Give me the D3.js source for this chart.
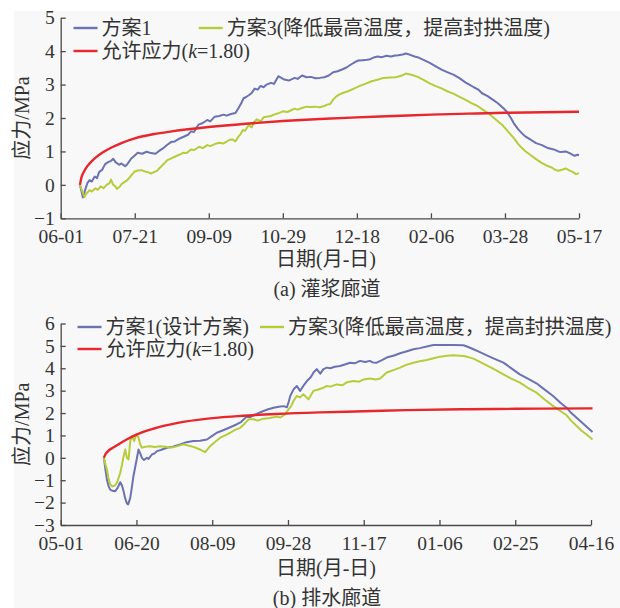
<!DOCTYPE html>
<html>
<head>
<meta charset="utf-8">
<script src="https://cdn.jsdelivr.net/npm/d3@7"></script>
<style>
  html, body { margin: 0; padding: 0; background: #ffffff; }
  svg { display: block; }
  text { font-family: "Liberation Serif", "Times New Roman", "Noto Sans CJK SC", serif; fill: #333; }
</style>
</head>
<body>
<svg id="fig" width="620" height="608"></svg>
<script>
// ---------- data: day offsets from the first axis date, stress in MPa ----------

// (a) grouting gallery, axis starts 06-01
const topTickLabels = ["06-01", "07-21", "09-09", "10-29", "12-18", "02-06", "03-28", "05-17"];
const topYTicks = [-1, 0, 1, 2, 3, 4, 5];

const topPlan1 = [
  [13, 0.0], [15, -0.38], [16.5, -0.15], [18, 0.05], [19.5, 0.14], [21, 0.1], [23, 0.25], [24.5, 0.2],
  [26, 0.39], [28, 0.45], [30, 0.62], [32, 0.68], [34, 0.72], [35.5, 0.78], [37, 0.68], [39.5, 0.6],
  [41, 0.64], [43.5, 0.56], [45, 0.62], [47.5, 0.78], [50, 0.88], [52, 0.96], [55, 0.93], [58, 0.99],
  [61, 0.95], [64, 0.93], [66, 1.0], [69, 1.09], [72, 1.2], [74.5, 1.28], [77, 1.3], [80, 1.38],
  [83, 1.44], [86, 1.5], [88, 1.6], [90, 1.58], [93, 1.8], [96, 1.85], [99, 1.94], [101, 1.9],
  [104, 2.04], [107, 2.06], [110, 2.1], [112, 2.07], [115, 2.12], [118, 2.15], [120, 2.29], [122, 2.45],
  [123.5, 2.59], [125, 2.62], [127, 2.68], [129, 2.75], [131, 2.88], [133, 2.85], [135, 2.96], [137, 2.92],
  [139, 3.0], [142, 3.05], [144, 3.02], [147, 3.25], [149, 3.2], [151, 3.15], [154, 3.12], [158, 3.2],
  [160, 3.17], [163, 3.27], [166, 3.22], [169, 3.23], [172, 3.19], [175, 3.2], [178, 3.22], [181, 3.27],
  [184, 3.37], [187, 3.4], [190, 3.45], [193, 3.51], [196, 3.6], [199, 3.68], [201, 3.72], [204, 3.73],
  [207, 3.74], [209, 3.76], [212, 3.82], [214, 3.84], [217, 3.82], [220, 3.86], [223, 3.84], [226, 3.87],
  [228, 3.88], [231, 3.9], [233, 3.93], [236, 3.89], [239, 3.84], [241, 3.82], [245, 3.74], [249.5, 3.64],
  [253, 3.55], [257.5, 3.44], [261, 3.37], [265.5, 3.29], [269, 3.2], [273.5, 3.06], [276, 3.0], [279, 2.92],
  [282, 2.85], [284.5, 2.74], [288, 2.66], [292, 2.54], [295, 2.45], [299, 2.29], [301, 2.2], [304, 2.0],
  [306, 1.84], [309, 1.66], [311.5, 1.54], [314, 1.44], [317, 1.36], [321, 1.25], [325, 1.19], [329, 1.1],
  [333, 1.06], [336, 1.0], [338, 0.98], [341, 1.0], [344, 0.94], [347, 0.87], [349, 0.9], [350, 0.88]
];

const topPlan3 = [
  [13, 0.0], [15, -0.25], [16, -0.36], [17.5, -0.25], [19.5, -0.16], [21, -0.2], [23.5, -0.1], [25, -0.15],
  [27, -0.05], [29, -0.1], [31, 0.0], [33, 0.05], [34, 0.16], [35.5, 0.0], [37, -0.05], [38, -0.12],
  [40, -0.05], [41, 0.02], [43, 0.08], [45, 0.14], [47, 0.25], [49, 0.35], [50, 0.4], [52, 0.43],
  [54.5, 0.44], [57, 0.4], [59, 0.38], [61, 0.34], [63, 0.38], [65, 0.42], [66.5, 0.49], [69, 0.6],
  [72, 0.74], [74, 0.78], [77, 0.84], [80, 0.9], [82.7, 0.96], [85, 0.95], [88, 1.06], [90, 1.04],
  [93.5, 1.14], [96, 1.1], [99, 1.19], [101, 1.16], [104, 1.22], [107, 1.26], [110, 1.24], [112, 1.29],
  [114, 1.35], [116, 1.36], [118, 1.3], [120, 1.44], [121.5, 1.52], [123, 1.64], [124.5, 1.62], [127, 1.79],
  [129, 1.72], [130.5, 1.88], [132.5, 1.96], [135, 1.9], [137, 2.02], [139, 2.04], [142, 2.06], [144, 2.1],
  [147, 2.14], [150, 2.2], [153, 2.18], [156, 2.24], [158, 2.28], [160, 2.25], [163, 2.3], [166, 2.34],
  [169, 2.33], [172, 2.34], [175, 2.32], [178, 2.36], [180, 2.4], [182, 2.42], [184, 2.55], [186, 2.64],
  [188, 2.7], [190, 2.74], [194, 2.8], [198, 2.88], [202, 2.96], [206, 3.03], [210, 3.1], [214.5, 3.15],
  [218, 3.2], [222.5, 3.21], [226, 3.22], [228, 3.24], [231, 3.28], [233, 3.33], [236, 3.3], [238, 3.28],
  [241, 3.23], [245, 3.14], [249.5, 3.03], [253, 2.96], [257.5, 2.88], [261, 2.8], [265.5, 2.72], [269, 2.64],
  [273.5, 2.54], [277, 2.45], [281.5, 2.36], [285, 2.25], [290, 2.1], [294, 1.95], [298, 1.8], [302, 1.6],
  [306, 1.4], [309, 1.22], [311.5, 1.1], [314, 1.0], [317, 0.9], [321, 0.77], [325, 0.65], [328, 0.58],
  [331.6, 0.52], [334, 0.45], [336, 0.42], [339, 0.46], [341, 0.49], [344, 0.42], [346, 0.38], [348, 0.32],
  [350, 0.35]
];

const topAllow = [
  [13, 0], [14, 0.22], [15.5, 0.38], [18, 0.56], [21, 0.71], [24, 0.83], [28, 0.96], [34, 1.11],
  [41, 1.25], [50, 1.39], [63, 1.52], [75, 1.6], [100, 1.73], [125, 1.83], [150, 1.91], [175, 1.97],
  [200, 2.02], [225, 2.06], [250, 2.1], [275, 2.13], [300, 2.155], [325, 2.17], [350, 2.185]
];

// (b) drainage gallery, axis starts 05-01
const botTickLabels = ["05-01", "06-20", "08-09", "09-28", "11-17", "01-06", "02-25", "04-16"];
const botYTicks = [-3, -2, -1, 0, 1, 2, 3, 4, 5, 6];

const botPlan1 = [
  [28.5, 0], [29.5, -0.5], [30.5, -0.97], [31.5, -1.25], [32.7, -1.42], [34, -1.47], [36, -1.49], [37.5, -1.35],
  [39.3, -1.09], [40.5, -1.25], [41.5, -1.49], [42.5, -1.8], [43.7, -2.04], [44.5, -2.08], [45.9, -1.79], [47, -1.3],
  [48, -0.82], [49.5, -0.3], [51.4, 0.37], [52.5, 0.2], [53.6, 0.0], [55, -0.1], [56.9, 0.0], [58, -0.05],
  [60.2, 0.15], [62, 0.2], [63.5, 0.3], [66, 0.35], [70, 0.45], [74, 0.5], [78.8, 0.6], [83, 0.7],
  [87.6, 0.75], [92, 0.76], [96.5, 0.82], [100, 0.98], [103, 1.12], [106, 1.2], [109.6, 1.3], [113, 1.4],
  [116, 1.49], [119, 1.6], [122.8, 1.84], [125, 1.82], [127.2, 1.9], [130, 1.98], [133.8, 2.09], [137, 2.17],
  [140.5, 2.24], [144, 2.28], [147, 2.31], [149.3, 2.26], [150.5, 2.5], [151.5, 2.76], [153.7, 3.06], [155.9, 3.21],
  [158, 2.99], [160, 3.2], [162.5, 3.43], [165, 3.6], [167, 3.82], [169, 3.96], [171.3, 3.76], [173.4, 3.96],
  [175.7, 4.03], [177.8, 4.0], [181, 4.07], [184.4, 4.1], [188, 4.18], [191, 4.25], [194, 4.22], [197.6, 4.33],
  [201, 4.28], [204, 4.33], [206, 4.26], [208.6, 4.25], [212, 4.36], [215.2, 4.48], [220, 4.57], [224, 4.67],
  [228, 4.75], [232.8, 4.85], [237, 4.9], [241.6, 4.97], [246, 5.04], [252, 5.04], [259.2, 5.04], [265.8, 5.03],
  [269, 4.95], [272.4, 4.85], [276, 4.74], [281.2, 4.58], [286, 4.43], [292.2, 4.25], [297, 4.02], [303, 3.73],
  [308, 3.55], [314, 3.33], [319, 3.07], [325, 2.76], [330, 2.45], [333.9, 2.24], [337, 2.0], [340.5, 1.79],
  [344, 1.58], [347.1, 1.39], [351, 1.15]
];

const botPlan3 = [
  [28.5, 0], [29.5, -0.3], [30.5, -0.52], [31.5, -0.9], [32.7, -1.19], [34, -1.27], [35.5, -1.25], [37.1, -1.12],
  [39.3, -0.67], [40.5, -0.3], [41.5, 0.07], [42.6, 0.37], [43.7, 0.0], [44.8, -0.07], [45.9, 0.75], [47, 0.97],
  [48.5, 0.75], [49.8, 1.04], [51.4, 0.9], [52.5, 0.6], [53.6, 0.45], [56, 0.5], [59, 0.52], [62, 0.48],
  [65.7, 0.52], [69, 0.5], [72.3, 0.45], [76, 0.5], [81, 0.6], [84, 0.55], [87.6, 0.49], [92, 0.37],
  [95.4, 0.25], [98.6, 0.52], [102, 0.72], [105.3, 0.9], [108.5, 1.0], [111.9, 1.12], [115, 1.25], [118.5, 1.34],
  [121, 1.5], [124, 1.72], [127.2, 1.72], [130, 1.66], [133.8, 1.75], [138, 1.78], [142.6, 1.84], [145, 1.8],
  [148.1, 1.94], [150.3, 2.16], [152, 2.3], [153.6, 2.54], [155.8, 2.76], [158, 2.7], [160.2, 2.84], [163.5, 2.61],
  [166.8, 2.99], [170, 3.05], [173.4, 3.13], [175.6, 3.21], [178, 3.18], [182.2, 3.28], [186, 3.24], [189, 3.38],
  [193.2, 3.43], [197, 3.4], [200, 3.5], [204.2, 3.54], [208, 3.5], [210.8, 3.54], [215.2, 3.81], [220, 3.93],
  [224, 4.03], [228, 4.15], [232.8, 4.25], [237, 4.31], [241.6, 4.37], [246, 4.45], [250.4, 4.52], [255, 4.56],
  [259.2, 4.58], [265.8, 4.55], [269, 4.5], [272.4, 4.43], [276, 4.31], [281.2, 4.13], [286, 3.96], [292.2, 3.73],
  [297, 3.55], [303.1, 3.36], [308, 3.14], [314.1, 2.91], [319, 2.63], [325.1, 2.31], [330, 2.08], [333.9, 1.9],
  [337, 1.65], [340.5, 1.42], [344, 1.2], [347.1, 1.04], [351, 0.82]
];

const botAllow = [
  [28.5, 0], [29.5, 0.16], [31, 0.28], [32.5, 0.37], [35, 0.47], [38.5, 0.62], [43.5, 0.82], [50, 1.04],
  [61, 1.3], [76.5, 1.55], [98.5, 1.76], [120.5, 1.88], [142.5, 1.96], [171, 2.03], [200, 2.08],
  [228, 2.13], [268, 2.17], [300, 2.19], [351, 2.21]
];

const tickStep = 50;   // days between date ticks
const spanDays = 350;

const COLORS = { plan1: "#6b72b4", plan3: "#b6cc3a", allow: "#e8262c" };
const AXIS_COLOR = "#4a4a4a";

const svg = d3.select("#fig");

// light sheet behind the figure
svg.append("rect").attr("x", 0).attr("y", 0).attr("width", 620).attr("height", 608).attr("fill", "#ffffff");
svg.append("rect").attr("x", 14).attr("y", 11).attr("width", 606).attr("height", 597).attr("fill", "#f8f8f8");

function drawPanel(cfg) {
  const g = svg.append("g");
  const x = d3.scaleLinear().domain([0, spanDays]).range([cfg.left, cfg.right]);
  const y = d3.scaleLinear().domain([cfg.yTicks[0], cfg.yTicks[cfg.yTicks.length - 1]])
    .range([cfg.bottom, cfg.top]);

  const tickDays = cfg.tickLabels.map((_, i) => i * tickStep);

  const xAxis = d3.axisBottom(x)
    .tickValues(tickDays)
    .tickFormat((d, i) => cfg.tickLabels[i])
    .tickSizeInner(-5).tickSizeOuter(0).tickPadding(11);
  const yAxis = d3.axisLeft(y)
    .tickValues(cfg.yTicks)
    .tickFormat(d3.format("d"))
    .tickSizeInner(-5).tickSizeOuter(0).tickPadding(6);

  const gx = g.append("g").attr("transform", `translate(0,${cfg.bottom})`).call(xAxis);
  const gy = g.append("g").attr("transform", `translate(${cfg.left},0)`).call(yAxis);
  [gx, gy].forEach(a => {
    a.select(".domain").attr("stroke", AXIS_COLOR).attr("stroke-width", 1.3);
    a.selectAll(".tick line").attr("stroke", AXIS_COLOR).attr("stroke-width", 1.3);
    a.selectAll(".tick text")
      .attr("font-family", '"Liberation Serif", "Times New Roman", serif')
      .attr("font-size", 19.5).attr("fill", "#333");
  });

  // series
  const line = d3.line().x(d => x(d[0])).y(d => y(d[1]));
  const smooth = d3.line().x(d => x(d[0])).y(d => y(d[1])).curve(d3.curveMonotoneX);
  const series = [
    { data: cfg.plan1, color: COLORS.plan1, width: 2, gen: line },
    { data: cfg.plan3, color: COLORS.plan3, width: 2, gen: line },
    { data: cfg.allow, color: COLORS.allow, width: 2.4, gen: smooth }
  ];
  series.forEach(s => {
    g.append("path").attr("d", s.gen(s.data))
      .attr("fill", "none").attr("stroke", s.color)
      .attr("stroke-width", s.width).attr("stroke-linejoin", "round");
  });

  // legend
  cfg.legend.forEach(item => {
    g.append("line")
      .attr("x1", item.x).attr("x2", item.x + 24)
      .attr("y1", item.y).attr("y2", item.y)
      .attr("stroke", item.color).attr("stroke-width", 2.4);
    const t = g.append("text")
      .attr("x", item.x + 28).attr("y", item.y).attr("dy", "0.35em")
      .attr("font-size", 20);
    item.parts.forEach(p => {
      const ts = t.append("tspan").text(p.text);
      if (p.italic) ts.attr("font-style", "italic");
    });
  });

  // axis titles and caption
  const midY = (cfg.top + cfg.bottom) / 2;
  g.append("text")
    .attr("transform", `translate(22,${midY}) rotate(-90)`)
    .attr("text-anchor", "middle").attr("dy", "0.35em")
    .attr("font-size", 20).text("应力/MPa");
  g.append("text")
    .attr("x", 326).attr("y", cfg.xTitleY).attr("dy", "0.35em")
    .attr("text-anchor", "middle").attr("font-size", 20).text("日期(月-日)");
  g.append("text")
    .attr("x", 327).attr("y", cfg.captionY).attr("dy", "0.35em")
    .attr("text-anchor", "middle").attr("font-size", 20).text(cfg.caption);
}

drawPanel({
  left: 60.7, right: 579, top: 17.7, bottom: 218.3,
  yTicks: topYTicks, tickLabels: topTickLabels,
  plan1: topPlan1, plan3: topPlan3, allow: topAllow,
  xTitleY: 259, captionY: 289, caption: "(a) 灌浆廊道",
  legend: [
    { x: 73.5, y: 28, color: COLORS.plan1, parts: [{ text: "方案1" }] },
    { x: 198.7, y: 28, color: COLORS.plan3, parts: [{ text: "方案3(降低最高温度，提高封拱温度)" }] },
    { x: 73.5, y: 51, color: COLORS.allow, parts: [{ text: "允许应力(" }, { text: "k", italic: true }, { text: "=1.80)" }] }
  ]
});

drawPanel({
  left: 60.7, right: 591, top: 323.5, bottom: 525,
  yTicks: botYTicks, tickLabels: botTickLabels,
  plan1: botPlan1, plan3: botPlan3, allow: botAllow,
  xTitleY: 567.5, captionY: 598, caption: "(b) 排水廊道",
  legend: [
    { x: 77.5, y: 327, color: COLORS.plan1, parts: [{ text: "方案1(设计方案)" }] },
    { x: 260, y: 327, color: COLORS.plan3, parts: [{ text: "方案3(降低最高温度，提高封拱温度)" }] },
    { x: 77.5, y: 349, color: COLORS.allow, parts: [{ text: "允许应力(" }, { text: "k", italic: true }, { text: "=1.80)" }] }
  ]
});
</script>
</body>
</html>
